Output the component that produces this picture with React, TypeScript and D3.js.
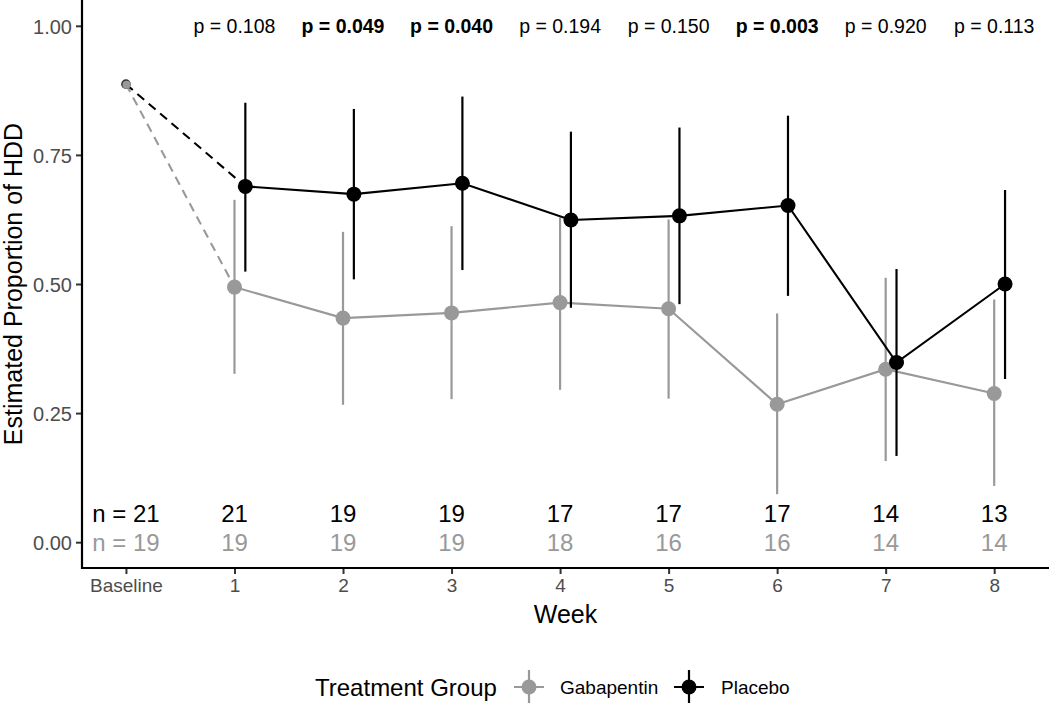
import { useEffect, useRef } from "react";
import * as d3 from "d3";

// x = 0 is baseline, weeks 1..8
const weeks = [1, 2, 3, 4, 5, 6, 7, 8];
const xTickLabels = ["Baseline", "1", "2", "3", "4", "5", "6", "7", "8"];
const yTicks = [0, 0.25, 0.5, 0.75, 1.0];

const baselineValue = 0.887;

const gabaEst = [0.494, 0.434, 0.444, 0.464, 0.452, 0.267, 0.335, 0.288];
const gabaLo = [0.326, 0.266, 0.277, 0.295, 0.278, 0.093, 0.157, 0.109];
const gabaHi = [0.663, 0.601, 0.612, 0.629, 0.625, 0.443, 0.512, 0.47];

const placEst = [0.689, 0.674, 0.695, 0.624, 0.632, 0.652, 0.348, 0.5];
const placLo = [0.524, 0.509, 0.527, 0.454, 0.461, 0.477, 0.167, 0.316];
const placHi = [0.851, 0.839, 0.863, 0.795, 0.803, 0.826, 0.529, 0.682];

const pValues = ["0.108", "0.049", "0.040", "0.194", "0.150", "0.003", "0.920", "0.113"];

const nPlacebo = ["n = 21", "21", "19", "19", "17", "17", "17", "14", "13"];
const nGaba = ["n = 19", "19", "19", "19", "18", "16", "16", "14", "14"];

const groups = ["Gabapentin", "Placebo"];
const GREY = "#999999";
const FONT = "'Liberation Sans', Arial, Helvetica, sans-serif";

export default function App() {
  const ref = useRef<HTMLDivElement>(null);

  useEffect(() => {
    const node = draw();
    if (ref.current) {
      ref.current.innerHTML = "";
      ref.current.appendChild(node);
    }
  }, []);

  return <div ref={ref} style={{ position: "absolute", left: 0, top: 0 }}></div>;
}

function draw(): SVGSVGElement {
  const width = 1050;
  const height = 703;
  const left = 82;
  const right = 1049;
  const top = 0;
  const bottom = 568;
  const dodge = 0.1;

  const x = d3.scaleLinear().domain([-0.405, 8.505]).range([left, right]);
  const y = d3.scaleLinear().domain([-0.05, 1.05]).range([bottom, top]);

  const svg = d3
    .create("svg")
    .attr("width", width)
    .attr("height", height)
    .attr("viewBox", [0, 0, width, height])
    .attr("font-family", FONT)
    .style("display", "block")
    .style("background", "#fff");

  // p-values along the top
  svg
    .append("g")
    .selectAll("text")
    .data(pValues)
    .join("text")
    .attr("x", (d, i) => x(weeks[i]))
    .attr("y", y(1) + 7)
    .attr("text-anchor", "middle")
    .attr("font-size", 19.5)
    .attr("font-weight", (d) => (+d < 0.05 ? "bold" : "normal"))
    .attr("fill", "#000")
    .text((d) => `p = ${d}`);

  // n counts
  const nRows = [
    { labels: nPlacebo, color: "#000", yv: 0.055 },
    { labels: nGaba, color: GREY, yv: 0 },
  ];
  nRows.forEach((row) => {
    svg
      .append("g")
      .selectAll("text")
      .data(row.labels)
      .join("text")
      .attr("x", (d, i) => x(i))
      .attr("y", y(row.yv) + 8.6)
      .attr("text-anchor", "middle")
      .attr("font-size", 24)
      .attr("fill", row.color)
      .text((d) => d);
  });

  const series = [
    { name: "Gabapentin", color: GREY, est: gabaEst, lo: gabaLo, hi: gabaHi, off: 0 },
    { name: "Placebo", color: "#000", est: placEst, lo: placLo, hi: placHi, off: dodge },
  ];

  series.forEach((s) => {
    const g = svg.append("g");
    // dashed segment from baseline to week 1
    g.append("line")
      .attr("x1", x(0))
      .attr("y1", y(baselineValue))
      .attr("x2", x(weeks[0] + s.off))
      .attr("y2", y(s.est[0]))
      .attr("stroke", s.color)
      .attr("stroke-width", 2.1)
      .attr("stroke-dasharray", "9,6");

    const line = d3
      .line<number>()
      .x((d, i) => x(weeks[i] + s.off))
      .y((d) => y(d));

    g.append("path")
      .datum(s.est)
      .attr("fill", "none")
      .attr("stroke", s.color)
      .attr("stroke-width", 2.1)
      .attr("d", line);

    g.selectAll(".bar")
      .data(s.est)
      .join("line")
      .attr("class", "bar")
      .attr("x1", (d, i) => x(weeks[i] + s.off))
      .attr("x2", (d, i) => x(weeks[i] + s.off))
      .attr("y1", (d, i) => y(s.lo[i]))
      .attr("y2", (d, i) => y(s.hi[i]))
      .attr("stroke", s.color)
      .attr("stroke-width", 2.2);

    g.selectAll("circle")
      .data(s.est)
      .join("circle")
      .attr("cx", (d, i) => x(weeks[i] + s.off))
      .attr("cy", (d) => y(d))
      .attr("r", 7.5)
      .attr("fill", s.color);
  });

  // baseline points (both groups share the same value)
  svg
    .append("circle")
    .attr("cx", x(0))
    .attr("cy", y(baselineValue))
    .attr("r", 4.8)
    .attr("fill", "#333");
  svg
    .append("circle")
    .attr("cx", x(0) + 0.6)
    .attr("cy", y(baselineValue) + 0.6)
    .attr("r", 4.1)
    .attr("fill", GREY);

  // axes
  const yAxis = svg
    .append("g")
    .attr("transform", `translate(${left},0)`)
    .call(d3.axisLeft(y).tickValues(yTicks).tickFormat(d3.format(".2f")).tickSize(6).tickPadding(4));
  yAxis.select(".domain").remove();
  yAxis.selectAll(".tick line").attr("stroke", "#333").attr("stroke-width", 2);
  yAxis
    .selectAll(".tick text")
    .attr("font-family", FONT)
    .attr("font-size", 20)
    .attr("fill", "#4d4d4d")
    .attr("dy", "0.36em");

  const xAxis = svg
    .append("g")
    .attr("transform", `translate(0,${bottom})`)
    .call(
      d3
        .axisBottom(x)
        .tickValues(d3.range(xTickLabels.length))
        .tickFormat((d, i) => xTickLabels[i])
        .tickSize(6)
        .tickPadding(5)
    );
  xAxis.select(".domain").remove();
  xAxis.selectAll(".tick line").attr("stroke", "#333").attr("stroke-width", 2);
  xAxis
    .selectAll(".tick text")
    .attr("font-family", FONT)
    .attr("font-size", 19)
    .attr("fill", "#4d4d4d");

  svg
    .append("path")
    .attr("d", `M${left},${top}V${bottom}H${right}`)
    .attr("fill", "none")
    .attr("stroke", "#000")
    .attr("stroke-width", 2.2);

  // axis titles
  svg
    .append("text")
    .attr("x", (left + right) / 2)
    .attr("y", 623)
    .attr("text-anchor", "middle")
    .attr("font-size", 25)
    .text("Week");

  svg
    .append("text")
    .attr("transform", `translate(22,${(top + bottom) / 2}) rotate(-90)`)
    .attr("text-anchor", "middle")
    .attr("font-size", 25)
    .text("Estimated Proportion of HDD");

  // legend
  const legendY = 687;
  svg
    .append("text")
    .attr("x", 315)
    .attr("y", legendY + 8.5)
    .attr("font-size", 24)
    .text("Treatment Group");

  const keyX = [529, 689];
  const labelX = [560, 721];
  groups.forEach((name, i) => {
    const color = series[i].color;
    const k = svg.append("g").attr("transform", `translate(${keyX[i]},${legendY})`);
    k.append("line").attr("x1", -15).attr("x2", 15).attr("stroke", color).attr("stroke-width", 2);
    k.append("line").attr("y1", -17).attr("y2", 17).attr("stroke", color).attr("stroke-width", 2.2);
    k.append("circle").attr("r", 7.5).attr("fill", color);
    svg
      .append("text")
      .attr("x", labelX[i])
      .attr("y", legendY + 7)
      .attr("font-size", 19)
      .text(name);
  });

  return svg.node() as SVGSVGElement;
}
